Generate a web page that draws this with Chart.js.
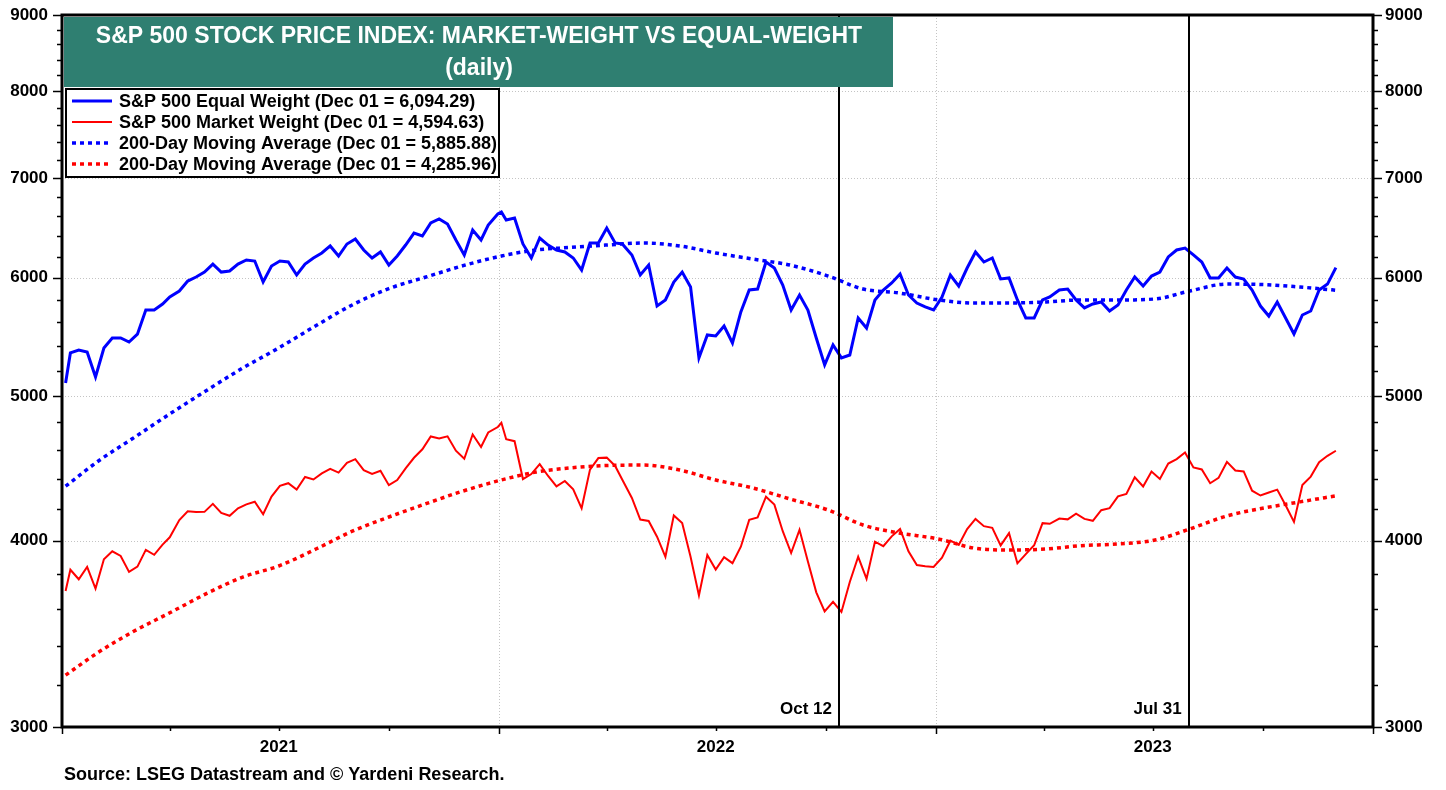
<!DOCTYPE html>
<html>
<head>
<meta charset="utf-8">
<title>S&amp;P 500 Market-Weight vs Equal-Weight</title>
<script src="https://cdn.jsdelivr.net/npm/chart.js@4.4.0/dist/chart.umd.min.js"></script>
<style>
  html, body { margin: 0; padding: 0; background: #fff; }
  #chart { display: block; }
</style>
</head>
<body>
<canvas id="chart" width="1446" height="790"></canvas>
<script>
const FONT = '"Liberation Sans", Arial, Helvetica, sans-serif';

// weekly closes (plus first trading day and the Jan 2022 peak)
const weekDates = [
  '2021-01-04', '2021-01-08', '2021-01-15', '2021-01-22', '2021-01-29',
  '2021-02-05', '2021-02-12', '2021-02-19', '2021-02-26',
  '2021-03-05', '2021-03-12', '2021-03-19', '2021-03-26',
  '2021-04-01', '2021-04-09', '2021-04-16', '2021-04-23', '2021-04-30',
  '2021-05-07', '2021-05-14', '2021-05-21', '2021-05-28',
  '2021-06-04', '2021-06-11', '2021-06-18', '2021-06-25',
  '2021-07-02', '2021-07-09', '2021-07-16', '2021-07-23', '2021-07-30',
  '2021-08-06', '2021-08-13', '2021-08-20', '2021-08-27',
  '2021-09-03', '2021-09-10', '2021-09-17', '2021-09-24',
  '2021-10-01', '2021-10-08', '2021-10-15', '2021-10-22', '2021-10-29',
  '2021-11-05', '2021-11-12', '2021-11-19', '2021-11-26',
  '2021-12-03', '2021-12-10', '2021-12-17', '2021-12-23', '2021-12-31',
  '2022-01-03', '2022-01-07', '2022-01-14', '2022-01-21', '2022-01-28',
  '2022-02-04', '2022-02-11', '2022-02-18', '2022-02-25',
  '2022-03-04', '2022-03-11', '2022-03-18', '2022-03-25',
  '2022-04-01', '2022-04-08', '2022-04-14', '2022-04-22', '2022-04-29',
  '2022-05-06', '2022-05-13', '2022-05-20', '2022-05-27',
  '2022-06-03', '2022-06-10', '2022-06-17', '2022-06-24',
  '2022-07-01', '2022-07-08', '2022-07-15', '2022-07-22', '2022-07-29',
  '2022-08-05', '2022-08-12', '2022-08-19', '2022-08-26',
  '2022-09-02', '2022-09-09', '2022-09-16', '2022-09-23', '2022-09-30',
  '2022-10-07', '2022-10-14', '2022-10-21', '2022-10-28',
  '2022-11-04', '2022-11-11', '2022-11-18', '2022-11-25',
  '2022-12-02', '2022-12-09', '2022-12-16', '2022-12-23', '2022-12-30',
  '2023-01-06', '2023-01-13', '2023-01-20', '2023-01-27',
  '2023-02-03', '2023-02-10', '2023-02-17', '2023-02-24',
  '2023-03-03', '2023-03-10', '2023-03-17', '2023-03-24', '2023-03-31',
  '2023-04-06', '2023-04-14', '2023-04-21', '2023-04-28',
  '2023-05-05', '2023-05-12', '2023-05-19', '2023-05-26',
  '2023-06-02', '2023-06-09', '2023-06-16', '2023-06-23', '2023-06-30',
  '2023-07-07', '2023-07-14', '2023-07-21', '2023-07-28',
  '2023-08-04', '2023-08-11', '2023-08-18', '2023-08-25',
  '2023-09-01', '2023-09-08', '2023-09-15', '2023-09-22', '2023-09-29',
  '2023-10-06', '2023-10-13', '2023-10-20', '2023-10-27',
  '2023-11-03', '2023-11-10', '2023-11-17', '2023-11-24', '2023-12-01'
];

const equalWeight = [
  5100, 5343, 5367, 5350, 5148,
  5384, 5468, 5468, 5434,
  5500, 5709, 5709, 5762,
  5825, 5879, 5970, 6007, 6053,
  6128, 6053, 6063, 6128,
  6167, 6157, 5961, 6110,
  6157, 6148, 6026, 6128, 6186,
  6234, 6302, 6205, 6321,
  6370, 6263, 6186, 6244,
  6119, 6205, 6311, 6429, 6400,
  6529, 6570, 6519, 6360,
  6215, 6459, 6360, 6509, 6620,
  6640, 6559, 6580, 6321, 6186,
  6380, 6311, 6263, 6244,
  6186, 6072, 6331, 6331,
  6479, 6331, 6321, 6215, 6026,
  6119, 5744, 5798, 5961,
  6053, 5915, 5302, 5493,
  5485, 5570, 5426, 5692, 5888,
  5897, 6148, 6091, 5933,
  5709, 5843, 5709, 5468, 5245,
  5409, 5302, 5326, 5639,
  5552, 5798, 5888, 5952,
  6035, 5843, 5771, 5736, 5709,
  5825, 6026, 5924, 6091,
  6244, 6148, 6186, 5989,
  5998, 5798, 5639, 5639, 5798,
  5825, 5888, 5897, 5798,
  5727, 5762, 5780, 5700,
  5753, 5888, 6007, 5924, 6016,
  6053, 6196, 6263, 6282,
  6215, 6148, 5998, 5998,
  6091, 6007, 5989, 5888, 5744,
  5656, 5780, 5639, 5502,
  5665, 5700, 5888, 5942, 6094.29
];

const marketWeight = [
  3700, 3824, 3768, 3841, 3714,
  3886, 3934, 3906, 3811,
  3842, 3943, 3913, 3975,
  4020, 4129, 4185, 4180, 4181,
  4233, 4174, 4156, 4204,
  4230, 4247, 4166, 4281,
  4352, 4370, 4327, 4412, 4395,
  4437, 4468, 4442, 4509,
  4535, 4459, 4433, 4455,
  4357, 4391, 4471, 4545, 4605,
  4697, 4683, 4698, 4595,
  4538, 4712, 4621, 4726, 4766,
  4797, 4677, 4663, 4398, 4432,
  4501, 4419, 4349, 4385,
  4329, 4204, 4463, 4543,
  4546, 4488, 4393, 4272, 4132,
  4123, 4024, 3901, 4158,
  4109, 3901, 3675, 3912,
  3825, 3899, 3863, 3962, 4130,
  4145, 4280, 4228, 4058,
  3924, 4067, 3873, 3693, 3586,
  3639, 3583, 3752, 3901,
  3771, 3993, 3965, 4026,
  4072, 3934, 3852, 3845, 3840,
  3895, 3999, 3973, 4071,
  4136, 4090, 4079, 3970,
  4046, 3862, 3917, 3971, 4109,
  4105, 4138, 4133, 4169,
  4136, 4124, 4192, 4205,
  4282, 4299, 4410, 4348, 4450,
  4399, 4505, 4536, 4582,
  4478, 4464, 4370, 4406,
  4516, 4457, 4450, 4320, 4288,
  4308, 4327, 4224, 4117,
  4358, 4415, 4514, 4559, 4594.63
];

// 200-day moving averages, read monthly
const maDates = [
  '2021-01-04', '2021-02-01', '2021-03-01', '2021-04-01', '2021-05-03', '2021-06-01',
  '2021-07-01', '2021-08-02', '2021-09-01', '2021-10-01', '2021-11-01', '2021-12-01',
  '2022-01-03', '2022-02-01', '2022-03-01', '2022-04-01', '2022-05-02', '2022-06-01',
  '2022-07-01', '2022-08-01', '2022-09-01', '2022-10-03', '2022-11-01', '2022-12-01',
  '2023-01-03', '2023-02-01', '2023-03-01', '2023-04-03', '2023-05-01', '2023-06-01',
  '2023-07-03', '2023-08-01', '2023-09-01', '2023-10-02', '2023-11-01', '2023-12-01'
];
const equalWeightMA = [
  4350, 4526, 4682, 4863, 5050, 5220,
  5384, 5578, 5757, 5901, 6007, 6110,
  6205, 6263, 6287, 6311, 6331, 6302,
  6234, 6176, 6119, 6016, 5897, 5861,
  5798, 5771, 5771, 5780, 5798, 5798,
  5807, 5879, 5942, 5937, 5915, 5885.88
];
const marketWeightMA = [
  3250, 3369, 3474, 3578, 3690, 3781,
  3846, 3951, 4060, 4148, 4234, 4315,
  4392, 4446, 4474, 4491, 4494, 4460,
  4392, 4338, 4265, 4193, 4097, 4047,
  4010, 3955, 3942, 3948, 3968, 3979,
  4003, 4072, 4155, 4206, 4246, 4285.96
];

const seriesLabels = [
  'S&P 500 Equal Weight (Dec 01 = 6,094.29)',
  'S&P 500 Market Weight (Dec 01 = 4,594.63)',
  '200-Day Moving Average (Dec 01 = 5,885.88)',
  '200-Day Moving Average (Dec 01 = 4,285.96)'
];

const yTicks = [3000, 4000, 5000, 6000, 7000, 8000, 9000];
const quarterDates = [
  '2021-01-01', '2021-04-01', '2021-07-01', '2021-10-01',
  '2022-01-01', '2022-04-01', '2022-07-01', '2022-10-01',
  '2023-01-01', '2023-04-01', '2023-07-01', '2023-10-01', '2024-01-01'
];
const yearLabels = { '2021-07-01': '2021', '2022-07-01': '2022', '2023-07-01': '2023' };
const yearLines = ['2022-01-01', '2023-01-01'];
const events = [
  { date: '2022-10-12', label: 'Oct 12' },
  { date: '2023-07-31', label: 'Jul 31' }
];

const BLUE = '#0000ff';
const RED = '#ff0000';
const TEAL = '#2f7f71';

function dayNum(s) {
  const [y, m, d] = s.split('-').map(Number);
  return (Date.UTC(y, m - 1, d) - Date.UTC(2021, 0, 1)) / 86400000;
}
const toPoints = (dates, values) => dates.map((d, i) => ({ x: dayNum(d), y: values[i] }));

const labelByDay = {};
Object.keys(yearLabels).forEach(d => { labelByDay[dayNum(d)] = yearLabels[d]; });

const decorations = {
  id: 'decorations',
  beforeDatasetsDraw(chart) {
    const { ctx, chartArea: a, scales: { x, y } } = chart;
    ctx.save();
    ctx.strokeStyle = '#c4c4c4';
    ctx.lineWidth = 1;
    ctx.setLineDash([1, 2]);
    ctx.beginPath();
    yTicks.slice(1, -1).forEach(v => {
      const py = Math.round(y.getPixelForValue(v)) + 0.5;
      ctx.moveTo(a.left, py);
      ctx.lineTo(a.right, py);
    });
    yearLines.forEach(d => {
      const px = Math.round(x.getPixelForValue(dayNum(d))) + 0.5;
      ctx.moveTo(px, a.top);
      ctx.lineTo(px, a.bottom);
    });
    ctx.stroke();
    ctx.restore();
  },
  afterDatasetsDraw(chart) {
    const { ctx, chartArea: a, scales: { x, y } } = chart;
    ctx.save();

    // event lines
    ctx.strokeStyle = '#000';
    ctx.lineWidth = 2;
    events.forEach(ev => {
      const px = Math.round(x.getPixelForValue(dayNum(ev.date)));
      ctx.beginPath();
      ctx.moveTo(px, a.top);
      ctx.lineTo(px, a.bottom);
      ctx.stroke();
    });

    // frame
    ctx.lineWidth = 3;
    ctx.strokeRect(a.left, a.top, a.right - a.left, a.bottom - a.top);

    // y tick marks, both sides
    ctx.lineWidth = 1.5;
    ctx.beginPath();
    for (let v = 3000; v <= 9000; v += 200) {
      const py = Math.round(y.getPixelForValue(v)) + 0.5;
      const len = v % 1000 === 0 ? 9 : 5;
      ctx.moveTo(a.left - len, py);
      ctx.lineTo(a.left, py);
      ctx.moveTo(a.right, py);
      ctx.lineTo(a.right + len, py);
    }
    // x tick marks
    quarterDates.forEach(d => {
      const px = Math.round(x.getPixelForValue(dayNum(d))) + 0.5;
      const len = d.slice(5) === '01-01' ? 7 : 4;
      ctx.moveTo(px, a.bottom);
      ctx.lineTo(px, a.bottom + len);
    });
    ctx.stroke();

    // title box
    ctx.fillStyle = TEAL;
    ctx.fillRect(64, 17, 829, 70);
    ctx.fillStyle = '#fff';
    ctx.font = 'bold 23px ' + FONT;
    ctx.textAlign = 'center';
    ctx.textBaseline = 'middle';
    ctx.fillText('S&P 500 STOCK PRICE INDEX: MARKET-WEIGHT VS EQUAL-WEIGHT', 479, 37);
    ctx.fillText('(daily)', 479, 69);

    // legend box
    ctx.fillStyle = '#fff';
    ctx.fillRect(65, 88, 435, 90);
    ctx.strokeStyle = '#000';
    ctx.lineWidth = 2;
    ctx.strokeRect(66, 89, 433, 88);
    const rows = [101, 122, 143, 164];
    chart.data.datasets.forEach((ds, i) => {
      const ry = rows[i];
      ctx.beginPath();
      ctx.strokeStyle = ds.borderColor;
      ctx.lineWidth = ds.borderWidth;
      ctx.setLineDash(ds.borderDash || []);
      ctx.moveTo(72, ry);
      ctx.lineTo(112, ry);
      ctx.stroke();
      ctx.setLineDash([]);
      ctx.fillStyle = '#000';
      ctx.font = 'bold 18px ' + FONT;
      ctx.textAlign = 'left';
      ctx.fillText(ds.label, 119, ry + 1);
    });

    // event labels
    ctx.font = 'bold 17px ' + FONT;
    ctx.textAlign = 'right';
    ctx.fillStyle = '#000';
    events.forEach(ev => {
      const px = x.getPixelForValue(dayNum(ev.date));
      ctx.fillText(ev.label, px - 7, 709);
    });

    // source
    ctx.font = 'bold 18px ' + FONT;
    ctx.textAlign = 'left';
    ctx.fillText('Source: LSEG Datastream and \u00a9 Yardeni Research.', 64, 775);
    ctx.restore();
  }
};

const tickFont = { family: FONT, size: 17, weight: 'bold' };
const logAxis = (position, width, padding) => ({
  type: 'logarithmic',
  position,
  min: 3000,
  max: 9000,
  afterBuildTicks: s => { s.ticks = yTicks.map(v => ({ value: v })); },
  afterFit: s => { s.width = width; s.paddingTop = 0; s.paddingBottom = 0; },
  ticks: { callback: v => String(v), font: tickFont, color: '#000', padding },
  grid: { display: false, drawTicks: false },
  border: { display: false }
});

new Chart(document.getElementById('chart'), {
  type: 'line',
  data: {
    datasets: [
      { label: seriesLabels[0], data: toPoints(weekDates, equalWeight), borderColor: BLUE, borderWidth: 3 },
      { label: seriesLabels[1], data: toPoints(weekDates, marketWeight), borderColor: RED, borderWidth: 2 },
      { label: seriesLabels[2], data: toPoints(maDates, equalWeightMA), borderColor: BLUE, borderWidth: 3.5,
        borderDash: [4, 4], cubicInterpolationMode: 'monotone' },
      { label: seriesLabels[3], data: toPoints(maDates, marketWeightMA), borderColor: RED, borderWidth: 3.5,
        borderDash: [4, 4], cubicInterpolationMode: 'monotone' }
    ]
  },
  options: {
    responsive: false,
    devicePixelRatio: 1,
    animation: false,
    layout: { padding: { top: 15, left: 0, right: 0, bottom: 0 } },
    elements: { point: { radius: 0 }, line: { tension: 0, fill: false } },
    plugins: { legend: { display: false }, tooltip: { enabled: false }, title: { display: false } },
    scales: {
      x: {
        type: 'linear',
        min: dayNum('2021-01-01'),
        max: dayNum('2024-01-01'),
        afterBuildTicks: s => { s.ticks = quarterDates.map(d => ({ value: dayNum(d) })); },
        afterFit: s => { s.height = 63; s.paddingLeft = 0; s.paddingRight = 0; },
        ticks: {
          callback: v => labelByDay[v] || '',
          autoSkip: false, maxRotation: 0, minRotation: 0,
          font: tickFont, color: '#000', padding: 10
        },
        grid: { display: false, drawTicks: false },
        border: { display: false }
      },
      y: logAxis('left', 62, 14),
      y2: logAxis('right', 73, 12)
    }
  },
  plugins: [decorations]
});
</script>
</body>
</html>
